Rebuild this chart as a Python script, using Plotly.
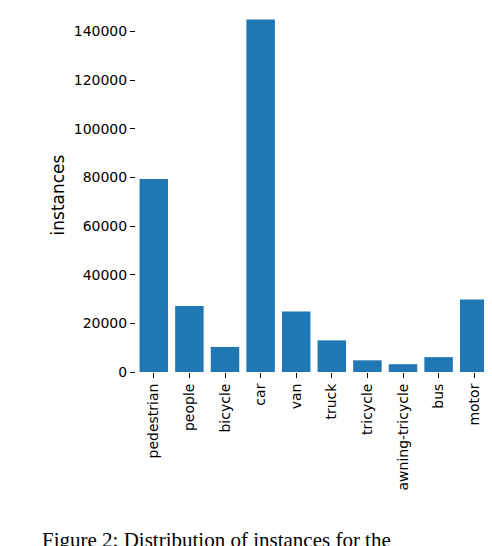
import plotly.graph_objects as go

categories = ["pedestrian", "people", "bicycle", "car", "van", "truck", "tricycle",
              "awning-tricycle", "bus", "motor"]
instances = [79300, 27100, 10300, 144900, 24900, 13000, 4800, 3200, 6100, 29800]
y_ticks = [0, 20000, 40000, 60000, 80000, 100000, 120000, 140000]

fig = go.Figure(go.Bar(x=categories, y=instances, marker_color="#1f77b4",
                       marker_line_width=0, width=0.8))
fig.update_layout(
    width=492, height=546, plot_bgcolor="white", paper_bgcolor="white",
    margin=dict(l=128, r=8, t=10, b=182), showlegend=False,
    font=dict(family="DejaVu Sans", size=14, color="black"),
    annotations=[dict(text="Figure 2: Distribution of instances for the", xref="paper", yref="paper",
                      x=-0.27, y=-0.435, xanchor="left", yanchor="top", showarrow=False,
                      font=dict(family="Liberation Serif", size=21, color="black"))],
)
fig.update_xaxes(range=[-0.5, 9.5], tickangle=-90, ticks="outside", ticklen=5,
                 tickcolor="black", showline=False, showgrid=False, automargin=False)
fig.update_yaxes(range=[0, 145500], tickvals=y_ticks, ticktext=[str(v) for v in y_ticks],
                 ticks="outside", ticklen=5, tickcolor="black", showline=False, showgrid=False,
                 zeroline=False, automargin=False, title=dict(text="instances", standoff=4))
fig.write_html("out.html")
